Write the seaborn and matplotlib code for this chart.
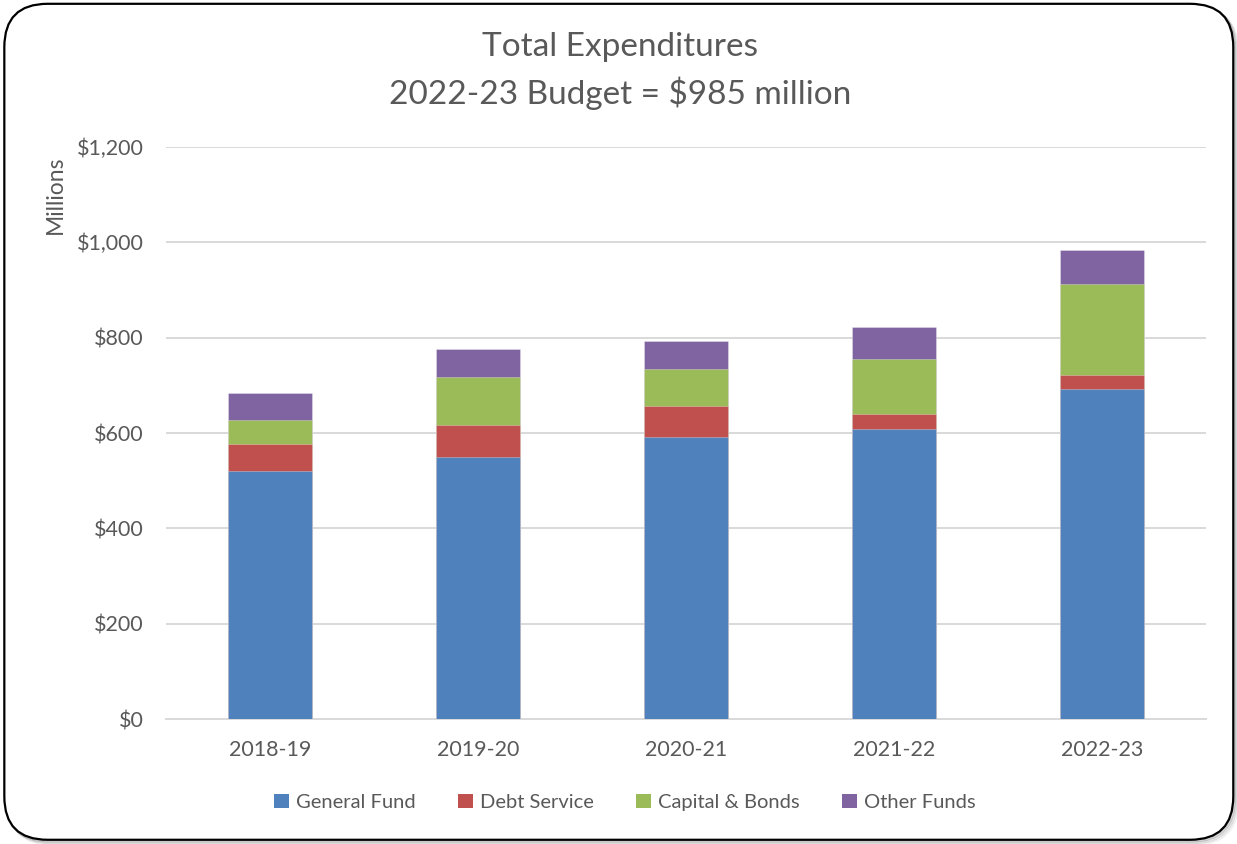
import matplotlib
matplotlib.use("Agg")
import matplotlib.pyplot as plt
from matplotlib.patches import FancyBboxPatch, Patch
import numpy as np
import pandas as pd
import seaborn as sns

# Fiscal years and spending by fund (millions of dollars)
years = ["2018-19", "2019-20", "2020-21", "2021-22", "2022-23"]
general_fund = [520, 550, 591, 609, 692]
debt_service = [58, 67, 66, 30, 30]
capital_bonds = [50, 101, 78, 117, 191]
other_funds = [55, 58, 58, 66, 72]

series_names = ["General Fund", "Debt Service", "Capital & Bonds", "Other Funds"]
series_colors = ["#4F81BD", "#C0504D", "#9BBB59", "#8064A2"]
y_ticks = [0, 200, 400, 600, 800, 1000, 1200]
y_tick_labels = ["$0", "$200", "$400", "$600", "$800", "$1,000", "$1,200"]

sns.set_theme(style="white")
plt.rcParams["font.family"] = ["Lato", "DejaVu Sans"]
text_color = "#595959"

fig = plt.figure(figsize=(12.37, 8.44), dpi=100)
fig.patch.set_facecolor("white")

# Rounded chart frame with a soft drop shadow
fx0, fy0, fw, fh = 0.0035, 0.005, 0.9935, 0.9905
for i, a in enumerate([0.10, 0.18, 0.30]):
    off = (3 - i) * 0.0012
    shadow = FancyBboxPatch((fx0 + off, fy0 - off * 1.46), fw, fh,
                            boxstyle="round,pad=0,rounding_size=0.035",
                            transform=fig.transFigure, facecolor="none",
                            edgecolor=(0.45, 0.45, 0.45, a), linewidth=2.0,
                            mutation_aspect=1237 / 844, zorder=0)
    fig.patches.append(shadow)
frame = FancyBboxPatch((fx0, fy0), fw, fh,
                       boxstyle="round,pad=0,rounding_size=0.035",
                       transform=fig.transFigure, facecolor="white",
                       edgecolor="black", linewidth=1.6,
                       mutation_aspect=1237 / 844, zorder=1)
fig.patches.append(frame)

ax = fig.add_axes([0.1342, 0.1481, 0.8407, 0.6777])
ax.set_facecolor("none")
ax.set_zorder(2)

df = pd.DataFrame({
    "year": years,
    "General Fund": general_fund,
    "Debt Service": debt_service,
    "Capital & Bonds": capital_bonds,
    "Other Funds": other_funds,
})
cum = df[series_names].cumsum(axis=1)

# Stacked bars: draw cumulative totals from the top series down
for name, color in reversed(list(zip(series_names, series_colors))):
    sns.barplot(x=df["year"], y=cum[name], color=color, width=0.4,
                saturation=1, ax=ax, edgecolor=(1, 1, 1, 0.35), linewidth=0.6,
                zorder=3)

ax.set_ylim(0, 1200)
ax.set_xlim(-0.5, 4.5)
ax.set_yticks(y_ticks)
ax.set_yticklabels(y_tick_labels)
ax.yaxis.grid(True, color="#D9D9D9", linewidth=1.4, zorder=0)
ax.set_axisbelow(True)
for s in ["top", "right", "left"]:
    ax.spines[s].set_visible(False)
ax.spines["bottom"].set_color("#D9D9D9")
ax.spines["bottom"].set_linewidth(1.4)
ax.tick_params(axis="both", length=0, labelsize=15.5, colors=text_color)
ax.tick_params(axis="y", pad=16)
ax.tick_params(axis="x", pad=15)
ax.set_xlabel("")
ax.set_ylabel("")

fig.text(0.0445, 0.769, "Millions", rotation=90, ha="center", va="center",
         fontsize=16.5, color=text_color)

fig.text(0.5015, 0.944, "Total Expenditures", ha="center", va="center",
         fontsize=24, color=text_color)
fig.text(0.5015, 0.889, "2022-23 Budget = $985 million", ha="center",
         va="center", fontsize=24, color=text_color)

handles = [Patch(facecolor=c, edgecolor="none", label=n)
           for n, c in zip(series_names, series_colors)]
fig.legend(handles=handles, loc="center", bbox_to_anchor=(0.505, 0.0495),
           ncol=4, frameon=False, fontsize=14.5, labelcolor=text_color,
           handlelength=0.75, handleheight=0.75, handletextpad=0.35,
           columnspacing=2.1)

fig.savefig("out.png", dpi=100, facecolor="white")
